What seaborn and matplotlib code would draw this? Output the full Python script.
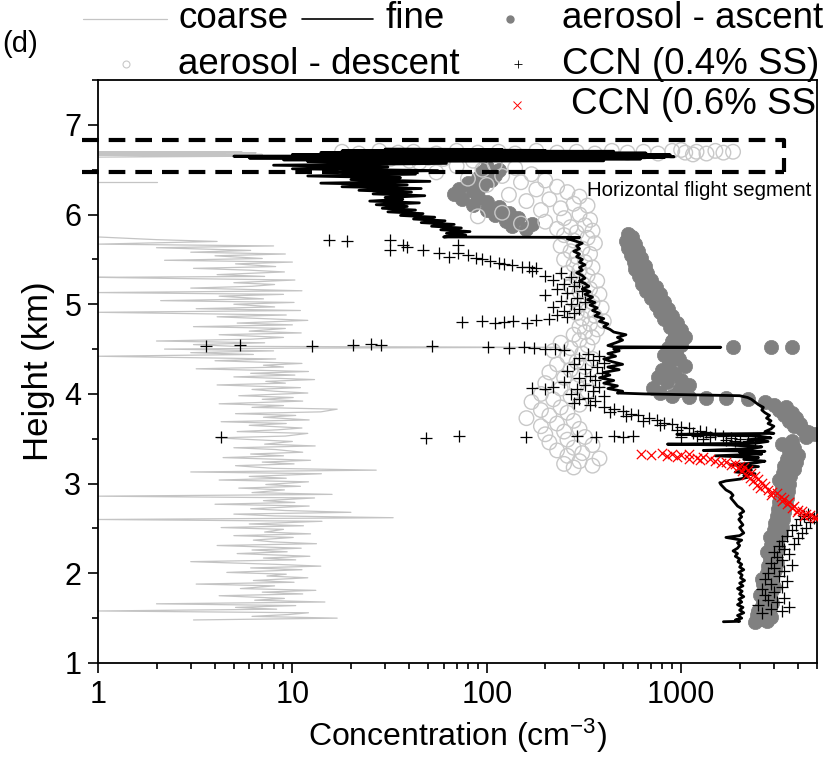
import matplotlib
matplotlib.use("Agg")
import matplotlib.pyplot as plt
import matplotlib.ticker as mticker
from matplotlib.lines import Line2D
import pandas as pd
import seaborn as sns

# ---------------------------------------------------------------------------
# Vertical profile data: (altitude km, number concentration cm^-3)
# ---------------------------------------------------------------------------
coarse_profile = [
    (1.48, 3.1), (1.50, 17.0), (1.52, 6.2), (1.54, 9.5), (1.56, 12.1), (1.58, 1.0), (1.60, 8.3), (1.62, 5.1),
    (1.64, 10.4), (1.66, 2.0), (1.68, 14.7), (1.70, 6.4), (1.72, 9.1), (1.75, 4.2), (1.77, 11.3), (1.79, 7.0),
    (1.81, 13.2), (1.83, 5.4), (1.86, 8.1), (1.88, 3.2), (1.90, 10.2), (1.92, 6.3), (1.95, 12.0), (1.97, 7.4),
    (1.99, 9.3), (2.01, 4.6), (2.04, 11.2), (2.06, 6.1), (2.08, 14.0), (2.10, 8.2), (2.13, 3.0), (2.15, 10.4),
    (2.17, 7.1), (2.19, 12.3), (2.22, 5.2), (2.24, 9.4), (2.26, 6.2), (2.28, 11.1), (2.31, 4.1), (2.33, 13.3),
    (2.35, 8.0), (2.37, 6.3), (2.40, 10.1), (2.42, 5.0), (2.44, 12.4), (2.46, 7.2), (2.49, 9.0), (2.51, 4.3),
    (2.53, 11.4), (2.55, 6.0), (2.58, 14.2), (2.60, 1.0), (2.62, 33.0), (2.64, 8.1), (2.66, 5.0), (2.68, 20.0),
    (2.70, 9.2), (2.72, 6.1), (2.75, 12.2), (2.77, 4.0), (2.79, 10.3), (2.81, 7.1), (2.84, 13.0), (2.86, 1.0),
    (2.88, 16.0), (2.90, 6.2), (2.93, 9.1), (2.95, 5.3), (2.97, 11.0), (2.99, 7.3), (3.02, 12.1), (3.04, 4.2),
    (3.06, 9.3), (3.08, 6.0), (3.11, 14.1), (3.13, 3.0), (3.15, 27.0), (3.17, 8.0), (3.20, 5.1), (3.22, 10.2),
    (3.24, 7.0), (3.26, 12.4), (3.29, 4.4), (3.31, 9.0), (3.33, 6.1), (3.35, 11.3), (3.38, 8.2), (3.40, 5.0),
    (3.42, 13.1), (3.44, 7.2), (3.47, 10.0), (3.49, 6.3), (3.51, 4.1), (3.53, 9.2), (3.56, 12.0), (3.58, 5.2),
    (3.60, 8.4), (3.62, 11.2), (3.65, 6.0), (3.67, 9.3), (3.69, 4.3), (3.71, 12.2), (3.74, 7.1), (3.76, 10.4),
    (3.78, 5.1), (3.80, 14.0), (3.83, 17.0), (3.85, 6.2), (3.87, 9.0), (3.89, 4.2), (3.92, 11.3), (3.94, 7.0),
    (3.96, 10.1), (3.98, 5.3), (4.01, 12.0), (4.03, 8.1), (4.05, 6.2), (4.07, 11.0), (4.10, 4.1), (4.12, 9.2),
    (4.14, 7.3), (4.16, 13.0), (4.19, 5.0), (4.21, 10.3), (4.23, 6.1), (4.25, 12.1), (4.28, 3.2), (4.30, 9.0),
    (4.32, 7.1), (4.34, 11.2), (4.37, 4.0), (4.39, 8.2), (4.41, 2.1), (4.42, 1.0), (4.44, 6.3), (4.46, 3.0),
    (4.48, 8.0), (4.50, 2.2), (4.51, 10.1), (4.52, 236.0), (4.53, 5.1), (4.55, 3.1), (4.57, 7.2), (4.59, 2.0),
    (4.61, 6.1), (4.63, 9.0), (4.66, 4.2), (4.68, 11.1), (4.70, 6.0), (4.73, 9.2), (4.75, 3.1), (4.77, 10.0),
    (4.79, 5.2), (4.82, 12.0), (4.84, 7.0), (4.86, 4.1), (4.88, 9.3), (4.91, 1.0), (4.93, 11.0), (4.95, 3.2),
    (4.97, 8.1), (5.00, 5.0), (5.02, 10.2), (5.04, 2.1), (5.06, 7.1), (5.09, 4.2), (5.11, 9.0), (5.13, 1.0),
    (5.15, 11.2), (5.18, 3.0), (5.20, 6.2), (5.22, 8.1), (5.24, 5.0), (5.27, 10.3), (5.29, 2.0), (5.30, 1.0),
    (5.31, 7.2), (5.33, 4.1), (5.36, 9.1), (5.38, 6.0), (5.40, 3.1), (5.42, 8.2), (5.45, 5.1), (5.47, 10.0),
    (5.49, 2.2), (5.51, 7.0), (5.54, 4.0), (5.56, 9.2), (5.58, 3.0), (5.60, 6.1), (5.63, 2.0), (5.65, 8.0),
    (5.67, 1.0), (5.70, 4.1), (5.72, 2.0), (5.75, 1.0),
]
coarse_leg_mid = [(6.36, 1.0), (6.36, 2.0)]
coarse_leg_top = [
    (6.64, 1.0), (6.65, 6.0), (6.66, 1.0), (6.66, 5.0), (6.67, 1.0), (6.67, 7.0),
    (6.68, 1.0), (6.68, 4.5), (6.69, 1.0), (6.69, 6.5), (6.70, 1.0), (6.70, 5.5),
]

fine_profile = [
    (1.46, 1650), (1.465, 2000), (1.48, 1900), (1.50, 2050), (1.53, 1950), (1.56, 2100), (1.59, 2000),
    (1.62, 2080), (1.65, 1950), (1.68, 2050), (1.71, 1980), (1.74, 2100), (1.77, 2000), (1.80, 2060),
    (1.83, 1950), (1.86, 2080), (1.89, 2000), (1.92, 2120), (1.95, 2020), (1.98, 2060), (2.01, 1980),
    (2.04, 2100), (2.07, 2000), (2.10, 2050), (2.13, 1960), (2.16, 2000), (2.19, 1900), (2.22, 1950),
    (2.25, 1850), (2.28, 1950), (2.31, 2000), (2.34, 1950), (2.37, 2050), (2.40, 1700), (2.42, 2000),
    (2.45, 2100), (2.48, 2050), (2.51, 2000), (2.54, 2080), (2.57, 2030), (2.60, 1980), (2.63, 2050),
    (2.66, 2000), (2.69, 2100), (2.72, 2050), (2.75, 1950), (2.78, 1900), (2.81, 1850), (2.84, 1800),
    (2.87, 1850), (2.90, 1800), (2.93, 1700), (2.96, 1650), (2.99, 1600), (3.01, 1580), (3.03, 1700),
    (3.05, 2000), (3.07, 2200), (3.09, 2100), (3.11, 2400), (3.13, 1900), (3.15, 2300), (3.17, 2000),
    (3.19, 2500), (3.21, 1800), (3.23, 2400), (3.25, 2700), (3.27, 2100), (3.29, 2500), (3.31, 1500),
    (3.33, 2600), (3.35, 2000), (3.36, 2700), (3.37, 1300), (3.39, 2300), (3.41, 2600), (3.43, 1800),
    (3.44, 850), (3.45, 2400), (3.47, 2800), (3.49, 2200), (3.51, 2900), (3.53, 2500), (3.55, 950),
    (3.56, 3000), (3.58, 2700), (3.61, 2900), (3.64, 3000), (3.67, 2800), (3.70, 2900), (3.73, 2750),
    (3.76, 2850), (3.79, 2700), (3.82, 2600), (3.85, 2650), (3.88, 2500), (3.91, 2400), (3.94, 2300),
    (3.96, 2200), (3.98, 2000), (4.00, 650), (4.01, 470), (4.03, 500), (4.06, 420), (4.09, 470),
    (4.12, 400), (4.15, 450), (4.18, 380), (4.21, 430), (4.24, 400), (4.27, 480), (4.30, 420),
    (4.33, 500), (4.36, 440), (4.39, 400), (4.42, 460), (4.45, 420), (4.48, 480), (4.50, 450),
    (4.515, 500), (4.52, 1600), (4.525, 450), (4.54, 420), (4.57, 460), (4.60, 500), (4.63, 470),
    (4.66, 520), (4.69, 450), (4.72, 430), (4.75, 400), (4.78, 420), (4.81, 380), (4.84, 400),
    (4.87, 360), (4.90, 380), (4.93, 350), (4.96, 370), (4.99, 340), (5.02, 360), (5.05, 330),
    (5.08, 350), (5.11, 320), (5.14, 340), (5.17, 310), (5.20, 335), (5.23, 320), (5.26, 300),
    (5.29, 320), (5.32, 310), (5.35, 290), (5.38, 310), (5.41, 300), (5.44, 320), (5.47, 300),
    (5.50, 310), (5.53, 290), (5.56, 300), (5.59, 280), (5.62, 300), (5.65, 290), (5.68, 310),
    (5.71, 280), (5.73, 260), (5.745, 300), (5.75, 60), (5.77, 78), (5.79, 62), (5.81, 82),
    (5.83, 58), (5.85, 74), (5.87, 52), (5.89, 68), (5.91, 46), (5.93, 61), (5.95, 42), (5.97, 54),
    (5.99, 36), (6.01, 47), (6.03, 31), (6.05, 43), (6.07, 29), (6.09, 39), (6.11, 27), (6.13, 45),
    (6.15, 25), (6.17, 37), (6.19, 30), (6.21, 48), (6.23, 26), (6.25, 41), (6.27, 22), (6.29, 46),
    (6.31, 18), (6.33, 39), (6.35, 14), (6.37, 51), (6.39, 20), (6.41, 36), (6.43, 12), (6.45, 43),
    (6.47, 16), (6.49, 56), (6.51, 10), (6.53, 31), (6.55, 8), (6.57, 62), (6.59, 12), (6.60, 400),
    (6.61, 9), (6.62, 620), (6.63, 6), (6.635, 820), (6.64, 15), (6.645, 920), (6.65, 5), (6.655, 700),
    (6.66, 20), (6.665, 880), (6.67, 10), (6.675, 520), (6.68, 25), (6.685, 660), (6.69, 14),
    (6.695, 300), (6.70, 40), (6.705, 450), (6.71, 18), (6.715, 200), (6.72, 60), (6.725, 120), (6.73, 30),
]

aerosol_ascent = [
    (1.46, 2400), (1.47, 2750), (1.49, 2550), (1.51, 2900), (1.53, 2450), (1.56, 2700), (1.58, 2500),
    (1.61, 2850), (1.64, 2600), (1.67, 2950), (1.70, 2650), (1.73, 2800), (1.76, 2550), (1.79, 2900),
    (1.82, 2700), (1.85, 3000), (1.88, 2650), (1.91, 2850), (1.94, 2600), (1.97, 2950), (2.00, 2750),
    (2.04, 3050), (2.08, 2800), (2.12, 3100), (2.16, 2850), (2.20, 3000), (2.24, 2750), (2.28, 3150),
    (2.32, 2900), (2.36, 3100), (2.40, 2850), (2.44, 3250), (2.48, 3000), (2.52, 3300), (2.56, 3050),
    (2.60, 3350), (2.64, 3100), (2.68, 3400), (2.72, 3150), (2.76, 3450), (2.80, 3200), (2.84, 3500),
    (2.88, 3250), (2.92, 3550), (2.96, 3300), (3.00, 3600), (3.04, 3200), (3.08, 3650), (3.12, 3350),
    (3.16, 3800), (3.20, 3400), (3.24, 3900), (3.28, 3500), (3.32, 4000), (3.36, 3600), (3.40, 3800),
    (3.44, 3300), (3.48, 3700), (3.52, 4400), (3.55, 4900), (3.58, 4500), (3.61, 4200), (3.64, 3800),
    (3.67, 4100), (3.70, 3600), (3.73, 3900), (3.76, 3400), (3.79, 3700), (3.82, 3200), (3.85, 3450),
    (3.88, 3000), (3.91, 2700), (3.94, 2200), (3.95, 1700), (3.96, 1350), (3.97, 1100), (3.98, 900),
    (4.01, 780), (4.04, 980), (4.07, 720), (4.10, 1100), (4.13, 850), (4.16, 1000), (4.19, 760),
    (4.23, 920), (4.27, 800), (4.31, 1050), (4.35, 870), (4.39, 980), (4.43, 820), (4.47, 940),
    (4.51, 860), (4.55, 1000), (4.59, 900), (4.63, 1050), (4.67, 930), (4.71, 1000), (4.75, 880),
    (4.79, 950), (4.83, 820), (4.87, 900), (4.91, 780), (4.95, 860), (4.99, 740), (5.03, 820),
    (5.07, 700), (5.11, 780), (5.15, 660), (5.19, 740), (5.23, 630), (5.27, 700), (5.31, 610),
    (5.35, 670), (5.39, 580), (5.43, 650), (5.47, 570), (5.51, 620), (5.55, 550), (5.59, 600),
    (5.63, 530), (5.67, 580), (5.71, 520), (5.75, 560), (5.78, 530),
    (4.52, 1850), (4.52, 2900), (4.52, 3700),
    (5.84, 160), (5.87, 135), (5.90, 170), (5.93, 125), (5.96, 145), (5.99, 110), (6.02, 130),
    (6.05, 100), (6.08, 115), (6.11, 85), (6.14, 100), (6.17, 75), (6.20, 90), (6.23, 68),
    (6.26, 85), (6.29, 72), (6.32, 95), (6.35, 80), (6.38, 105), (6.41, 90), (6.44, 110),
    (6.47, 95), (6.50, 115), (6.53, 100),
]

aerosol_descent = [
    (6.70, 18), (6.68, 22), (6.71, 28), (6.69, 35), (6.70, 42), (6.68, 55), (6.71, 70), (6.69, 90),
    (6.70, 115), (6.68, 140), (6.71, 180), (6.69, 230), (6.70, 290), (6.68, 360), (6.71, 440),
    (6.69, 530), (6.70, 640), (6.68, 760), (6.71, 900), (6.69, 1050), (6.70, 1200), (6.68, 1350),
    (6.71, 1500), (6.69, 1650), (6.70, 1850), (6.67, 1150), (6.72, 1000),
    (6.64, 25), (6.62, 32), (6.60, 40), (6.63, 50),
    (6.62, 60), (6.60, 85), (6.58, 45), (6.56, 110), (6.54, 70), (6.52, 140), (6.50, 95), (6.47, 55),
    (6.45, 170), (6.43, 120), (6.40, 80), (6.38, 200), (6.36, 150), (6.33, 100), (6.31, 230),
    (6.28, 180), (6.25, 260), (6.22, 130), (6.20, 300), (6.17, 210), (6.15, 160), (6.12, 280),
    (6.10, 330), (6.07, 240), (6.05, 190), (6.02, 120), (6.00, 300), (5.98, 90), (5.96, 250),
    (5.94, 340), (5.92, 200), (5.90, 150), (5.88, 320), (5.86, 270), (5.84, 230), (5.82, 350),
    (5.80, 290), (5.77, 250), (5.74, 330), (5.71, 280), (5.68, 360), (5.65, 240), (5.62, 310),
    (5.59, 270), (5.56, 340), (5.53, 290), (5.50, 250), (5.47, 320), (5.44, 280), (5.41, 350),
    (5.38, 300), (5.35, 260), (5.32, 330), (5.29, 290), (5.26, 370), (5.23, 310), (5.20, 270),
    (5.17, 340), (5.14, 300), (5.11, 380), (5.08, 320), (5.05, 280), (5.02, 350), (4.99, 300),
    (4.96, 390), (4.93, 330), (4.90, 290), (4.87, 360), (4.84, 310), (4.81, 400), (4.78, 340),
    (4.75, 300), (4.72, 370), (4.69, 320), (4.66, 280), (4.63, 350), (4.60, 300), (4.57, 240),
    (4.54, 330), (4.51, 270), (4.48, 220), (4.45, 310), (4.42, 260), (4.39, 350), (4.36, 290),
    (4.33, 230), (4.30, 320), (4.27, 270), (4.24, 210), (4.21, 300), (4.18, 250), (4.15, 380),
    (4.12, 200), (4.09, 290), (4.06, 240), (4.03, 330), (4.00, 190), (3.97, 270), (3.94, 220),
    (3.91, 170), (3.88, 300), (3.85, 240), (3.82, 190), (3.79, 260), (3.76, 210), (3.73, 160),
    (3.70, 280), (3.67, 230), (3.64, 190), (3.61, 300), (3.58, 250), (3.55, 200), (3.52, 320),
    (3.49, 260), (3.46, 210), (3.43, 350), (3.40, 280), (3.37, 230), (3.34, 310), (3.31, 260),
    (3.28, 380), (3.25, 300), (3.22, 250), (3.20, 350), (3.18, 280),
]

ccn_04 = [
    (1.56, 2600), (1.58, 3300), (1.60, 2900), (1.62, 3600), (1.65, 2500), (1.68, 3100), (1.70, 2800),
    (1.73, 3400), (1.76, 2700), (1.79, 3000), (1.82, 2600), (1.85, 3300), (1.88, 2900), (1.91, 3500),
    (1.94, 2700), (1.97, 3200), (2.00, 2800), (2.03, 3400), (2.06, 3000), (2.09, 3700), (2.12, 2900),
    (2.15, 3300), (2.18, 3100), (2.21, 3600), (2.24, 3000), (2.27, 3400), (2.30, 3200), (2.33, 3800),
    (2.36, 3300), (2.39, 4000), (2.42, 3500), (2.45, 4200), (2.48, 3700), (2.51, 4400), (2.54, 3900),
    (2.57, 4600), (2.60, 4100), (2.62, 4800), (2.64, 4300), (2.66, 4500),
    (3.85, 400), (3.83, 450), (3.81, 500), (3.80, 430), (3.78, 550), (3.76, 600), (3.75, 520),
    (3.73, 680), (3.71, 750), (3.70, 640), (3.68, 820), (3.66, 900), (3.65, 780), (3.63, 1000),
    (3.62, 1100), (3.60, 950), (3.59, 1250), (3.57, 1350), (3.56, 1150), (3.55, 1500), (3.53, 1650),
    (3.52, 1400), (3.51, 1800), (3.50, 2000), (3.49, 1700), (3.48, 2200), (3.47, 1900), (3.46, 2400),
    (3.52, 1000), (3.53, 1200), (3.50, 1300),
    (3.52, 4.3), (3.51, 48.5), (3.53, 72), (3.52, 159), (3.53, 290), (3.52, 364), (3.53, 453),
    (3.52, 504), (3.53, 566),
    (4.07, 170), (4.06, 200), (4.08, 220),
    (4.45, 330), (4.42, 380), (4.40, 300), (4.38, 350), (4.35, 400), (4.33, 280), (4.30, 370),
    (4.28, 320), (4.25, 260), (4.23, 390), (4.20, 340), (4.18, 300), (4.15, 360), (4.13, 250),
    (4.10, 320), (4.08, 380), (4.05, 290), (4.03, 350), (4.00, 270), (3.98, 400), (3.96, 330),
    (3.94, 300), (3.92, 360), (3.90, 280), (3.88, 340),
    (4.53, 3.6), (4.54, 5.4), (4.53, 12.6), (4.55, 20.5), (4.56, 25.4), (4.54, 28.5), (4.53, 52.5),
    (4.52, 102), (4.51, 130), (4.52, 155), (4.51, 175), (4.50, 200), (4.50, 225), (4.49, 250),
    (4.80, 75), (4.81, 94), (4.79, 110), (4.80, 123), (4.81, 137), (4.79, 161), (4.82, 180),
    (4.84, 210), (4.86, 260), (4.88, 230), (4.90, 280), (4.93, 250), (4.95, 300), (4.97, 220),
    (5.00, 270), (5.02, 320), (5.04, 240), (5.07, 290), (5.10, 200), (5.12, 260), (5.15, 310),
    (5.17, 230), (5.20, 280), (5.22, 250), (5.25, 300), (5.27, 220), (5.30, 270), (5.32, 200),
    (5.35, 240), (5.37, 170),
    (5.72, 15.5), (5.71, 19.2), (5.72, 31.6), (5.60, 31.6), (5.66, 37), (5.64, 39), (5.60, 47),
    (5.57, 57), (5.53, 64), (5.66, 71), (5.57, 71), (5.55, 80), (5.52, 88), (5.50, 95), (5.48, 104),
    (5.46, 115), (5.45, 123), (5.44, 135), (5.42, 152), (5.41, 165), (5.40, 180),
]

ccn_06 = [
    (3.33, 620), (3.32, 700), (3.34, 800), (3.33, 900), (3.32, 1000), (3.33, 1100), (3.31, 850),
    (3.30, 950), (3.29, 1200), (3.30, 1300), (3.28, 1100), (3.27, 1400), (3.26, 1250), (3.25, 1500),
    (3.24, 1700), (3.23, 1600), (3.22, 1900), (3.21, 1800), (3.20, 2000), (3.18, 2100), (3.17, 1950),
    (3.15, 2200), (3.14, 2050), (3.12, 2300), (3.10, 2150), (3.08, 2400), (3.06, 2250), (3.05, 2500),
    (3.03, 2350), (3.01, 2600), (2.99, 2450), (2.97, 2700), (2.95, 2550), (2.93, 2800), (2.91, 2950),
    (2.89, 3100), (2.87, 2900), (2.85, 3250), (2.83, 3400), (2.81, 3300), (2.79, 3600), (2.77, 3500),
    (2.75, 3800), (2.73, 3700), (2.71, 4000), (2.69, 4200), (2.68, 3950), (2.66, 4400), (2.65, 4600),
    (2.64, 4300), (2.63, 4800), (2.62, 4950),
]

x_ticks = [1, 10, 100, 1000]
x_tick_labels = ["1", "10", "100", "1000"]
y_ticks = [1, 2, 3, 4, 5, 6, 7]
series_labels = ["coarse", "fine", "aerosol - ascent", "aerosol - descent",
                 "CCN (0.4% SS)", "CCN (0.6% SS)"]


def to_frame(pairs):
    return pd.DataFrame(pairs, columns=["alt", "conc"])


coarse_df = pd.concat(
    [to_frame(coarse_profile).assign(leg=0),
     to_frame(coarse_leg_mid).assign(leg=1),
     to_frame(coarse_leg_top).assign(leg=2)],
    ignore_index=True,
)
fine_df = to_frame(fine_profile)
ascent_df = to_frame(aerosol_ascent)
descent_df = to_frame(aerosol_descent)
ccn04_df = to_frame(ccn_04)
ccn06_df = to_frame(ccn_06)

# ---------------------------------------------------------------------------
# Styling
# ---------------------------------------------------------------------------
sns.set_theme(style="ticks")
plt.rcParams["font.family"] = ["Liberation Sans", "DejaVu Sans"]
plt.rcParams["mathtext.fontset"] = "custom"
plt.rcParams["mathtext.rm"] = "Liberation Sans"
plt.rcParams["mathtext.it"] = "Liberation Sans:italic"
plt.rcParams["axes.edgecolor"] = "black"
plt.rcParams["axes.labelcolor"] = "black"
plt.rcParams["xtick.color"] = "black"
plt.rcParams["ytick.color"] = "black"
plt.rcParams["text.color"] = "black"

COARSE_C = "#c4c4c4"
ASCENT_C = "#808080"
DESCENT_C = "#c8c8c8"

W, H = 832, 758
fig = plt.figure(figsize=(W / 100, H / 100), dpi=100)
ax = fig.add_axes([98 / W, 1 - 663 / H, (817 - 98) / W, (663 - 80) / H])
ax.set_xscale("log")

sns.lineplot(data=coarse_df, x="conc", y="alt", units="leg", estimator=None, sort=False,
             color=COARSE_C, lw=0.9, ax=ax, legend=False, zorder=1)
sns.scatterplot(data=ascent_df, x="conc", y="alt", marker="o", s=105, color=ASCENT_C,
                edgecolor=ASCENT_C, linewidth=0.5, ax=ax, legend=False, zorder=2)
sns.scatterplot(data=descent_df, x="conc", y="alt", marker="o", s=110, facecolor="none",
                edgecolor=DESCENT_C, linewidth=1.0, ax=ax, legend=False, zorder=3)
sns.lineplot(data=fine_df, x="conc", y="alt", estimator=None, sort=False,
             color="black", lw=2.0, ax=ax, legend=False, zorder=4)
sns.scatterplot(data=ccn04_df, x="conc", y="alt", marker="+", s=65, color="black",
                linewidth=0.9, ax=ax, legend=False, zorder=5)
sns.scatterplot(data=ccn06_df, x="conc", y="alt", marker="x", s=45, color="red",
                linewidth=0.9, ax=ax, legend=False, zorder=6)

# Dashed frame around the level flight leg
dash = (0, (4, 2.4))
ax.plot([0.83, 3375, 3375], [6.83, 6.83, 6.474], color="black", lw=3, ls=dash,
        clip_on=False, zorder=7)
ax.plot([0.83, 3375], [6.474, 6.474], color="black", lw=3, ls=dash, clip_on=False, zorder=7)
ax.text(329, 6.27, "Horizontal flight segment", fontsize=14.7, ha="left", va="center", zorder=8)

# Axes
ax.set_xlim(1, 5000)
ax.set_ylim(1, 7.5)
ax.set_xticks(x_ticks)
ax.set_xticklabels(x_tick_labels)
ax.xaxis.set_minor_locator(mticker.LogLocator(base=10, subs=[2, 3, 4, 5, 6, 7, 8, 9], numticks=20))
ax.xaxis.set_minor_formatter(mticker.NullFormatter())
ax.set_yticks(y_ticks)
ax.yaxis.set_minor_locator(mticker.MultipleLocator(0.5))
ax.tick_params(which="major", direction="out", length=7, width=1.2, labelsize=22,
               colors="black", pad=5)
ax.tick_params(which="minor", direction="out", length=4, width=1.2, colors="black")
for sp in ax.spines.values():
    sp.set_linewidth(1.3)
    sp.set_color("black")
ax.set_xlabel("Concentration (cm$^{-3}$)", fontsize=23, labelpad=5)
ax.set_ylabel("Height (km)", fontsize=25, labelpad=7)

# Key above the panel
def fx(px):
    return px / W


def fy(py):
    return 1 - py / H


LEG_FS = 26.5
fig.add_artist(Line2D([fx(83), fx(167)], [fy(19), fy(19)], color=COARSE_C, lw=0.9))
fig.text(fx(178), fy(19), series_labels[0], fontsize=LEG_FS, va="center", ha="left")
fig.add_artist(Line2D([fx(302), fx(373)], [fy(19), fy(19)], color="black", lw=1.2))
fig.text(fx(385), fy(19), series_labels[1], fontsize=LEG_FS, va="center", ha="left")
fig.add_artist(Line2D([fx(510)], [fy(19)], ls="none", marker="o", ms=5,
                      color=ASCENT_C, mec=ASCENT_C))
fig.text(fx(562), fy(19), series_labels[2], fontsize=LEG_FS, va="center", ha="left")

fig.text(fx(2), fy(44), "(d)", fontsize=21, va="center", ha="left")
fig.add_artist(Line2D([fx(126)], [fy(64)], ls="none", marker="o", ms=5,
                      mfc="none", mec=DESCENT_C, mew=0.8))
fig.text(fx(178), fy(65), series_labels[3], fontsize=LEG_FS, va="center", ha="left")
fig.add_artist(Line2D([fx(518)], [fy(64)], ls="none", marker="+", ms=6,
                      color="black", mew=0.6))
fig.text(fx(562), fy(65), series_labels[4], fontsize=LEG_FS, va="center", ha="left")

fig.add_artist(Line2D([fx(517)], [fy(105)], ls="none", marker="x", ms=6,
                      color="red", mew=0.7))
t = fig.text(fx(571), fy(105), series_labels[5], fontsize=LEG_FS, va="center", ha="left")
t.set_clip_box(ax.bbox)
t.set_clip_on(True)

fig.savefig("out.png", dpi=100)
